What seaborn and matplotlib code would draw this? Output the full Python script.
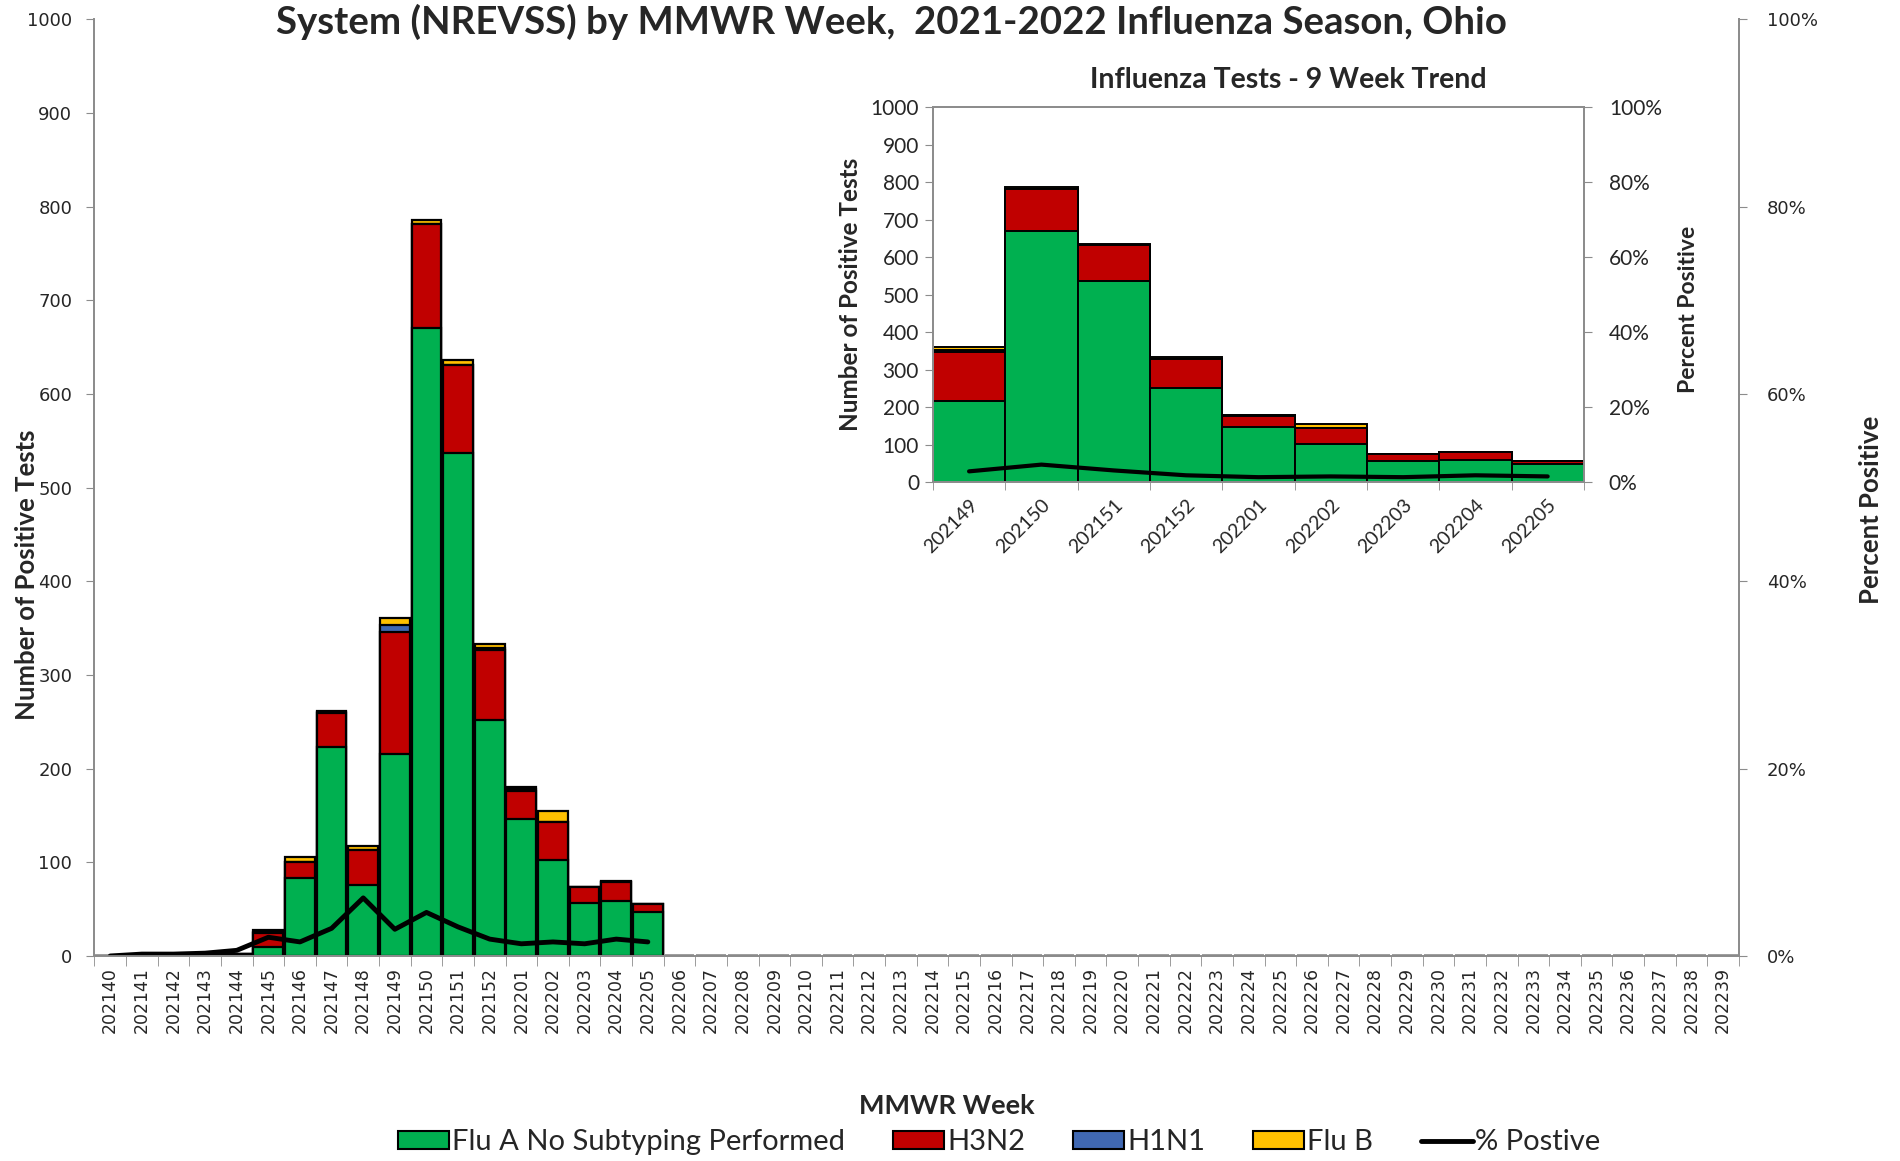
import numpy as np
import pandas as pd
import matplotlib
matplotlib.use("Agg")
import matplotlib.pyplot as plt
import seaborn as sns
from matplotlib.patches import Patch
from matplotlib.lines import Line2D
from matplotlib.ticker import FuncFormatter

sns.set_style("white")
plt.rcParams['font.family'] = ['Lato', 'DejaVu Sans']

# MMWR weeks, 2021-2022 season
weeks = [str(w) for w in range(202140, 202153)] + [str(w) for w in range(202201, 202240)]

# counts for the weeks that have data (202140 - 202205); the rest are zero
flu_a = [0, 1, 1, 1, 2, 10, 83, 223, 76, 216, 670, 537, 252, 146, 102, 57, 59, 47]
h3n2 = [0, 0, 0, 0, 0, 14, 17, 36, 37, 130, 111, 94, 75, 30, 41, 17, 20, 8]
h1n1 = [0, 0, 0, 0, 0, 2, 0, 1, 0, 7, 0, 0, 2, 2, 0, 0, 0, 0]
flu_b = [0, 0, 0, 0, 0, 2, 6, 2, 4, 8, 5, 5, 4, 2, 12, 0, 1, 0]
pct_pos = [0.0, 0.2, 0.2, 0.3, 0.6, 2.0, 1.5, 2.95, 6.2, 2.85, 4.65, 3.1, 1.8, 1.3, 1.5, 1.3, 1.8, 1.5]

n_data = len(flu_a)
pad = [0] * (len(weeks) - n_data)
df = pd.DataFrame({
    "week": weeks,
    "flu_a": flu_a + pad,
    "h3n2": h3n2 + pad,
    "h1n1": h1n1 + pad,
    "flu_b": flu_b + pad,
})
# cumulative heights for drawing the stack from top to bottom
df["c1"] = df["flu_a"]
df["c2"] = df["c1"] + df["h3n2"]
df["c3"] = df["c2"] + df["h1n1"]
df["c4"] = df["c3"] + df["flu_b"]

GREEN = "#00B050"
RED = "#C00000"
BLUE = "#4068B2"
YELLOW = "#FFC000"
GRAY = "#8C8C8C"

layers = [("c4", YELLOW), ("c3", BLUE), ("c2", RED), ("c1", GREEN)]


def style_axes(ax, ax2):
    for a in (ax, ax2):
        for s in a.spines.values():
            s.set_color(GRAY)
            s.set_linewidth(1.3)


fig = plt.figure(figsize=(19, 11.61), dpi=100)

# ---------------- main chart
ax = fig.add_axes([0.0497, 0.1766, 0.8655, 0.8067])
for col, c in layers:
    sns.barplot(data=df, x="week", y=col, order=weeks, color=c, saturation=1,
                edgecolor="black", linewidth=1.6, width=0.94, ax=ax)
ax.set_xlim(-0.5, len(weeks) - 0.5)
ax.set_ylim(0, 1000)
ax.set_yticks(range(0, 1001, 100))
ax.tick_params(axis="y", labelsize=13, length=6, color=GRAY, left=True, pad=10)
for t in ax.get_yticklabels():
    t.set_family("DejaVu Sans")
ax.set_xticks(range(len(weeks)))
ax.set_xticklabels(weeks, rotation=90, fontsize=12.5, family="DejaVu Sans")
ax.tick_params(axis="x", length=0, pad=8)
ax.set_xticks(np.arange(-0.5, len(weeks), 1), minor=True)
ax.tick_params(axis="x", which="minor", length=7, color=GRAY, bottom=True)
ax.set_xlabel("MMWR Week", fontsize=19.5, fontweight="bold")
ax.xaxis.set_label_coords(0.5185, -0.147)
ax.set_ylabel("Number of Positive Tests", fontsize=18.5, fontweight="bold")
ax.yaxis.set_label_coords(-0.034, 0.407)
ax.spines["top"].set_visible(False)

ax2 = ax.twinx()
sns.lineplot(x=np.arange(n_data), y=pct_pos, color="black", linewidth=3.5, ax=ax2)
ax2.set_ylim(0, 100)
ax2.set_yticks(range(0, 101, 20))
ax2.yaxis.set_major_formatter(FuncFormatter(lambda v, p: f"{int(v)}%"))
ax2.tick_params(axis="y", labelsize=13, length=6, color=GRAY, right=True, pad=14)
for t in ax2.get_yticklabels():
    t.set_family("DejaVu Sans")
ax2.set_ylabel("Percent Positive", fontsize=18.5, fontweight="bold")
ax2.yaxis.set_label_coords(1.073, 0.476)
ax2.spines["top"].set_visible(False)
style_axes(ax, ax2)
ax.spines["top"].set_visible(False)

fig.text(0.469, 0.981, "System (NREVSS) by MMWR Week,  2021-2022 Influenza Season, Ohio",
         ha="center", va="center", fontsize=27.6, fontweight="bold")

# ---------------- inset: last 9 weeks
last9 = df.iloc[n_data - 9:n_data].reset_index(drop=True)
wk9 = list(last9["week"])
axi = fig.add_axes([0.491, 0.5848, 0.3426, 0.323])
axi.set_facecolor("white")
for col, c in layers:
    sns.barplot(data=last9, x="week", y=col, order=wk9, color=c, saturation=1,
                edgecolor="black", linewidth=1.4, width=1.0, ax=axi)
axi.set_xlim(-0.5, 8.5)
axi.set_ylim(0, 1000)
axi.set_yticks(range(0, 1001, 100))
axi.tick_params(axis="y", labelsize=15, length=6, color=GRAY, left=True, pad=4)
axi.set_xticks(range(9))
axi.set_xticklabels(wk9, rotation=45, ha="right", rotation_mode="anchor", fontsize=14)
axi.tick_params(axis="x", length=0, pad=10)
axi.set_xticks(np.arange(-0.5, 9, 1), minor=True)
axi.tick_params(axis="x", which="minor", length=6, color=GRAY, bottom=True)
axi.set_xlabel("")
axi.set_ylabel("Number of Positive Tests", fontsize=17.5, fontweight="bold", labelpad=6)
axi.set_title("Influenza Tests - 9 Week Trend", fontsize=20.5, fontweight="bold",
              x=0.546, pad=14)

axi2 = axi.twinx()
sns.lineplot(x=np.arange(9), y=pct_pos[n_data - 9:], color="black", linewidth=3, ax=axi2)
axi2.set_ylim(0, 100)
axi2.set_yticks(range(0, 101, 20))
axi2.yaxis.set_major_formatter(FuncFormatter(lambda v, p: f"{int(v)}%"))
axi2.tick_params(axis="y", labelsize=15, length=6, color=GRAY, right=True, pad=12)
axi2.set_ylabel("Percent Positive", fontsize=16.5, fontweight="bold")
axi2.yaxis.set_label_coords(1.144, 0.461)
style_axes(axi, axi2)

# ---------------- legend
handles = [
    Patch(facecolor=GREEN, edgecolor="black", linewidth=1.5, label="Flu A No Subtyping Performed"),
    Patch(facecolor=RED, edgecolor="black", linewidth=1.5, label="H3N2"),
    Patch(facecolor=BLUE, edgecolor="black", linewidth=1.5, label="H1N1"),
    Patch(facecolor=YELLOW, edgecolor="black", linewidth=1.5, label="Flu B"),
    Line2D([0], [0], color="black", linewidth=3.5, label="% Postive"),
]
fig.legend(handles=handles, loc="center", bbox_to_anchor=(0.526, 0.016), ncol=5,
           frameon=False, fontsize=21, handlelength=1.75, handleheight=0.6,
           handletextpad=0.1, columnspacing=1.65)

fig.savefig("out.png", dpi=100)
